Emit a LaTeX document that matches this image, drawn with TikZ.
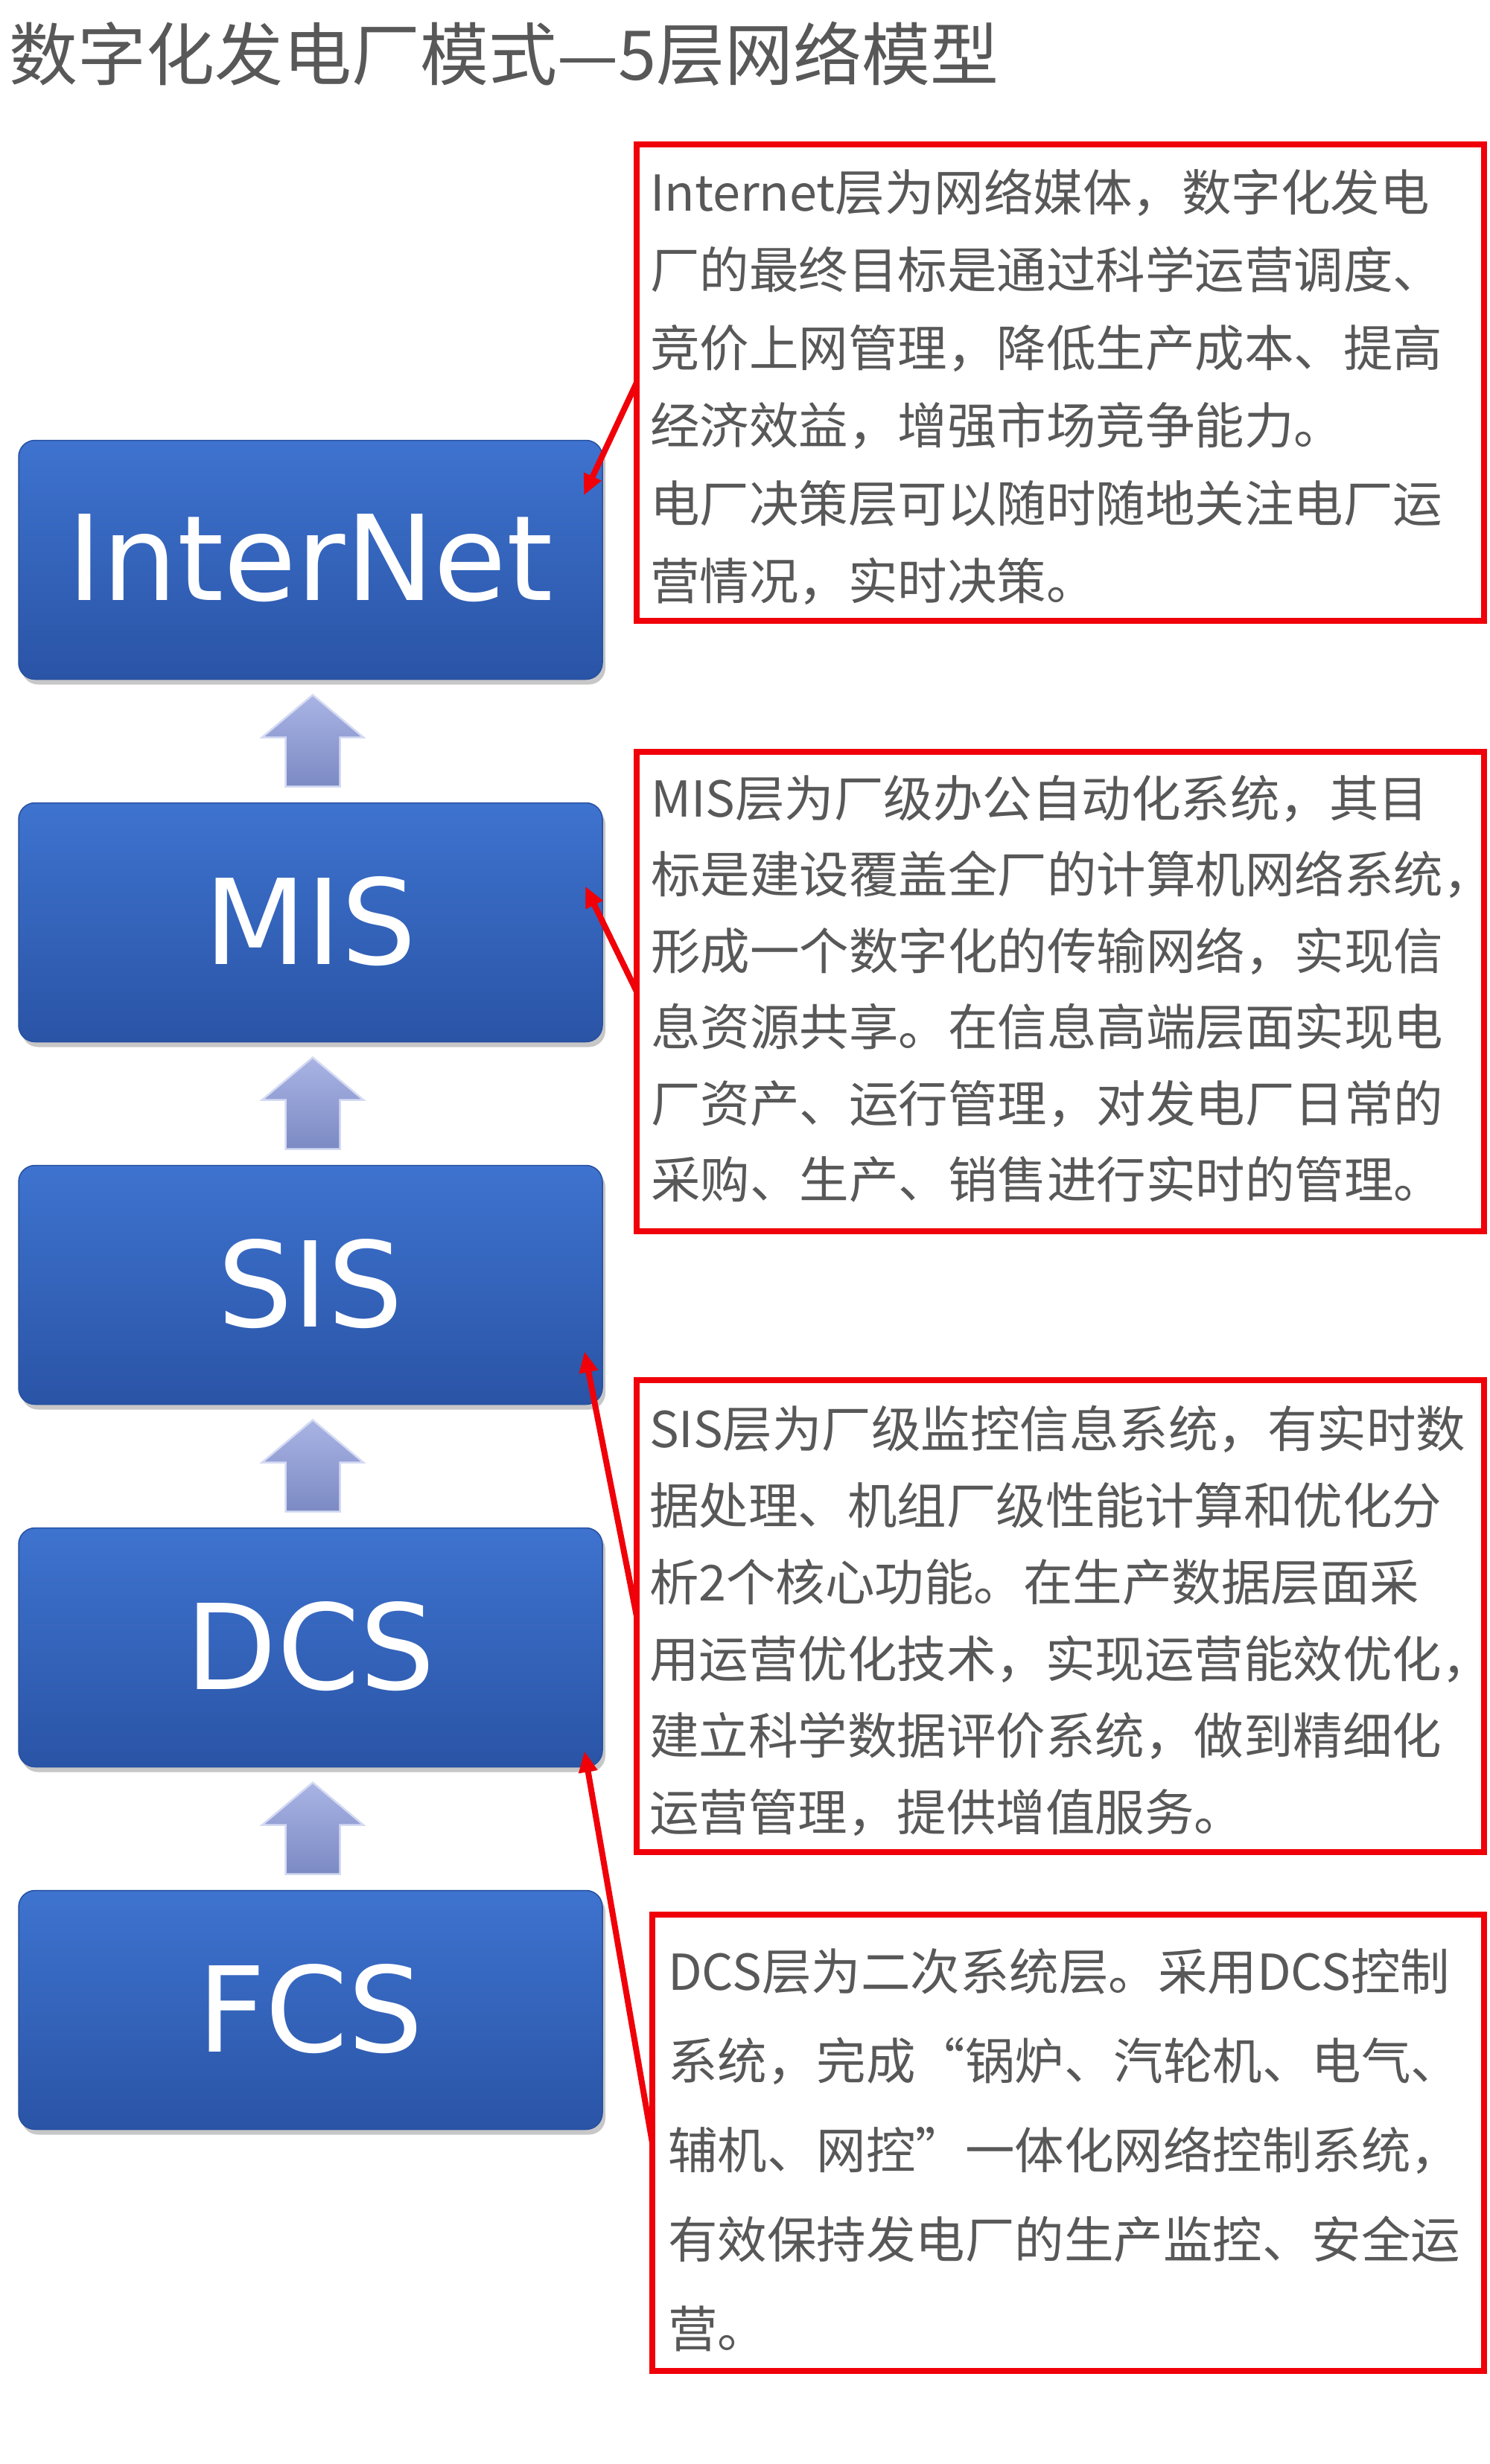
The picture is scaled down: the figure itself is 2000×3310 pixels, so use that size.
\documentclass[tikz,border=0pt]{standalone}
\usepackage{fontspec}
\setmainfont{Noto Sans CJK SC}
\newfontfamily\boxfont{DejaVu Sans}
\usetikzlibrary{arrows.meta,calc,shadows}
\definecolor{bxtop}{HTML}{3E73CF}
\definecolor{bxbot}{HTML}{2A54A6}
\definecolor{bxedge}{HTML}{2750A0}
\definecolor{artop}{HTML}{A9B4E4}
\definecolor{arbot}{HTML}{7C8AC4}
\definecolor{aredge}{HTML}{D4DAF2}
\definecolor{txtgray}{HTML}{585858}
\definecolor{redline}{HTML}{F00008}
\newcommand\blockup[2]{% #1 lower node, #2 upper node
  \path[blockarr] let \p1=($(#2.south)+(3,21)$), \p2=($(#1.north)+(0,-22)$) in
    (\x1,\y1) -- (\x1+68pt,\y1-57pt) -- (\x1+36.5pt,\y1-57pt) -- (\x1+36.5pt,\y2)
    -- (\x1-36.5pt,\y2) -- (\x1-36.5pt,\y1-57pt) -- (\x1-68pt,\y1-57pt) -- cycle;}
\begin{document}
\begin{tikzpicture}[x=1pt,y=-1pt,
  tierbox/.style={rounded corners=22pt, top color=bxtop, bottom color=bxbot,
    draw=bxedge, line width=1.5pt, minimum width=784pt, minimum height=321pt,
    inner sep=0pt, outer sep=0pt, text=white,
    font=\boxfont\fontsize{159}{159}\selectfont,
    drop shadow={shadow xshift=4pt,shadow yshift=-7pt,opacity=0.22,fill=black}},
  descbox/.style={draw=redline, line width=8pt, inner sep=0pt, outer sep=0pt},
  desctext/.style={anchor=north west, inner sep=0pt, outer sep=0pt, align=left,
    text=txtgray},
  redlink/.style={draw=redline, line width=8pt, -{Triangle[length=28pt,width=24pt]}},
  blockarr/.style={top color=artop, bottom color=arbot, draw=aredge, line width=2.5pt}
]
\fill[white] (0,0) rectangle (2000,3310);
\useasboundingbox (0,0) rectangle (2000,3310);

% title
\node[anchor=base west, inner sep=0pt, text=txtgray,
  font=\fontsize{92}{92}\selectfont] (title) at (12,108) {数字化发电厂模式—5层网络模型};

% layer boxes
\node[tierbox] (inet) at (417,752)  {\raisebox{6pt}{InterNet}};
\node[tierbox] (mis)  at (417,1239) {\raisebox{6pt}{MIS}};
\node[tierbox] (sis)  at (417,1726) {\raisebox{6pt}{SIS}};
\node[tierbox] (dcs)  at (417,2213) {\raisebox{6pt}{DCS}};
\node[tierbox] (fcs)  at (417,2700) {\raisebox{6pt}{FCS}};

% block arrows
\blockup{mis}{inet}
\blockup{sis}{mis}
\blockup{dcs}{sis}
\blockup{fcs}{dcs}

% description boxes
\node[descbox, minimum width=1138pt, minimum height=640pt] (t1) at (1424,514) {};
\node[descbox, minimum width=1138pt, minimum height=644pt] (t2) at (1424,1332) {};
\node[descbox, minimum width=1138pt, minimum height=634pt] (t3) at (1424,2171) {};
\node[descbox, minimum width=1117pt, minimum height=613pt] (t4) at (1434.5,2878.5) {};

\node[desctext, font=\fontsize{66.5}{104.5}\selectfont] (d1) at (873,223)
 {\rule{0pt}{60pt}Internet层为网络媒体，数字化发电\\
  厂的最终目标是通过科学运营调度、\\
  竞价上网管理，降低生产成本、提高\\
  经济效益，增强市场竞争能力。\\
  电厂决策层可以随时随地关注电厂运\\
  营情况，实时决策。};

\node[desctext, font=\fontsize{66.5}{102.5}\selectfont] (d2) at (874,1037)
 {\rule{0pt}{60pt}MIS层为厂级办公自动化系统，其目\\
  标是建设覆盖全厂的计算机网络系统，\\
  形成一个数字化的传输网络，实现信\\
  息资源共享。在信息高端层面实现电\\
  厂资产、运行管理，对发电厂日常的\\
  采购、生产、销售进行实时的管理。};

\node[desctext, font=\fontsize{66.5}{103}\selectfont] (d3) at (872,1884)
 {\rule{0pt}{60pt}SIS层为厂级监控信息系统，有实时数\\
  据处理、机组厂级性能计算和优化分\\
  析2个核心功能。在生产数据层面采\\
  用运营优化技术，实现运营能效优化，\\
  建立科学数据评价系统，做到精细化\\
  运营管理，提供增值服务。};

\node[desctext, font=\fontsize{66.5}{120}\selectfont] (d4) at (897,2613)
 {\rule{0pt}{60pt}DCS层为二次系统层。采用DCS控制\\
  系统，完成“锅炉、汽轮机、电气、\\
  辅机、网控”一体化网络控制系统，\\
  有效保持发电厂的生产监控、安全运\\
  营。};

% connector end points
\coordinate (p1) at ($(inet.north east)+(-25,74)$);
\coordinate (p2) at ($(mis.north east)+(-23,112)$);
\coordinate (p3) at ($(sis.south east)+(-24,-71)$);
\coordinate (p4) at ($(dcs.south east)+(-24,-21)$);

\draw[redlink] (t1.west) -- (p1);
\draw[redlink] (t2.west) -- (p2);
\draw[redlink] (t3.west) -- (p3);
\draw[redlink] (t4.west) -- (p4);
\end{tikzpicture}
\end{document}
